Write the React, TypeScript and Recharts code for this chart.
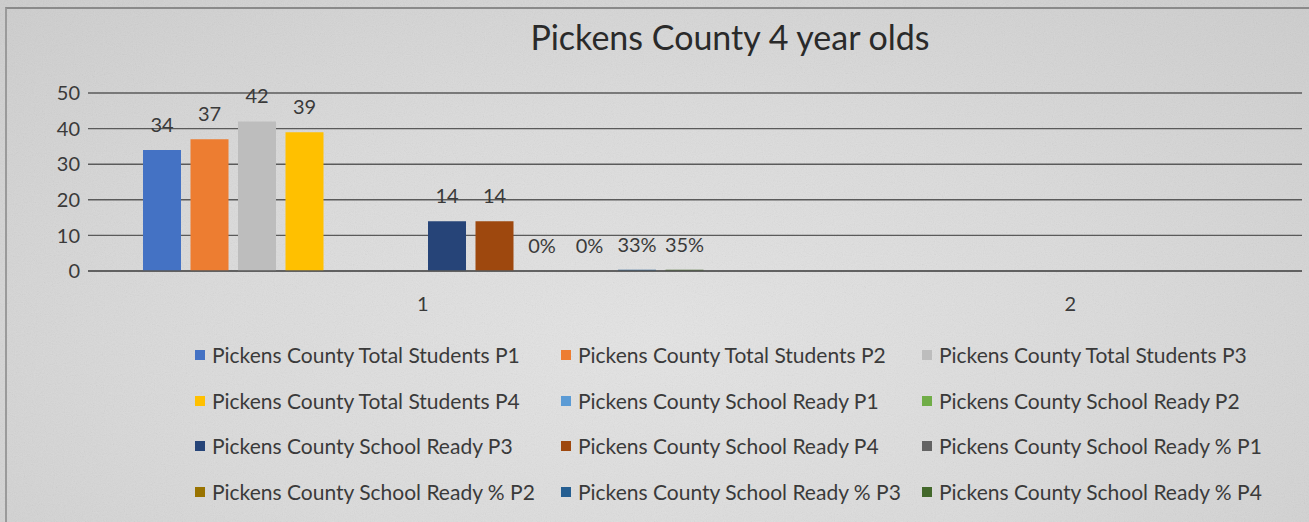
import { BarChart, Bar, XAxis, YAxis, CartesianGrid, LabelList } from "recharts";

const categories = ["1", "2"];
const periods = ["P1", "P2", "P3", "P4"];

// values for category "1"; category "2" has no data
const totalStudents = [34, 37, 42, 39];
const schoolReady = [null, null, 14, 14];
const schoolReadyPct = [0, 0, 0.33, 0.35];

const yTicks = [0, 10, 20, 30, 40, 50];

const totalColors = ["#4472C4", "#ED7D31", "#BDBDBD", "#FFC000"];
const readyColors = ["#5B9BD5", "#70AD47", "#264478", "#9E480E"];
const pctColors = ["#636363", "#997300", "#255E91", "#43682B"];

type Series = { key: string; name: string; color: string; pct: boolean };

const series: Series[] = [
  ...periods.map((p, i) => ({
    key: `total${p}`,
    name: `Pickens County Total Students ${p}`,
    color: totalColors[i],
    pct: false,
  })),
  ...periods.map((p, i) => ({
    key: `ready${p}`,
    name: `Pickens County School Ready ${p}`,
    color: readyColors[i],
    pct: false,
  })),
  ...periods.map((p, i) => ({
    key: `pct${p}`,
    name: `Pickens County School Ready % ${p}`,
    color: pctColors[i],
    pct: true,
  })),
];

const data = categories.map((c, ci) => {
  const row: Record<string, any> = { cat: c };
  periods.forEach((p, i) => {
    row[`total${p}`] = ci === 0 ? totalStudents[i] : null;
    row[`ready${p}`] = ci === 0 ? schoolReady[i] : null;
    row[`pct${p}`] = ci === 0 ? schoolReadyPct[i] : null;
  });
  return row;
});

const FONT = "Lato, 'Open Sans', sans-serif";
const TEXT = "#3a3a3a";

const fmtCount = (v: any) => (v === null || v === undefined ? "" : String(v));
const fmtPct = (v: any) =>
  v === null || v === undefined ? "" : `${Math.round(v * 100)}%`;

export default function App() {
  return (
    <div
      style={{
        position: "absolute",
        left: 0,
        top: 0,
        width: 1309,
        height: 522,
        overflow: "hidden",
        fontFamily: FONT,
        background:
          "radial-gradient(ellipse at 50% 65%, #e4e4e4 0%, #dbdbdb 50%, #cdcdcd 100%)",
      }}
    >
      <svg
        width={1309}
        height={522}
        style={{ position: "absolute", left: 0, top: 0, opacity: 0.15 }}
      >
        <filter id="grain">
          <feTurbulence type="fractalNoise" baseFrequency="0.9" numOctaves="2" seed="3" />
          <feColorMatrix type="saturate" values="0" />
        </filter>
        <rect width="100%" height="100%" filter="url(#grain)" />
      </svg>
      <div
        style={{
          position: "absolute",
          left: 5,
          top: 7,
          width: 1320,
          height: 530,
          borderTop: "2px solid #8a8a8a",
          borderLeft: "2px solid #9a9a9a",
        }}
      />
      <div
        style={{
          position: "absolute",
          top: 15,
          left: 0,
          width: 1460,
          textAlign: "center",
          fontSize: 34,
          lineHeight: "44px",
          color: "#2a2a2a",
        }}
      >
        Pickens County 4 year olds
      </div>
      <div style={{ position: "absolute", left: 0, top: 0 }}>
        <BarChart
          width={1309}
          height={320}
          data={data}
          margin={{ top: 93, right: 7, bottom: 19, left: 8 }}
          barSize={38}
          barGap={9.5}
        >
          <CartesianGrid
            vertical={false}
            stroke="#5a5a5a"
            strokeWidth={1.4}
            horizontalValues={yTicks}
          />
          <XAxis
            dataKey="cat"
            padding={{ left: 11, right: -92 }}
            tickLine={false}
            axisLine={{ stroke: "#5a5a5a", strokeWidth: 1.4 }}
            tickMargin={20}
            tick={{ fill: TEXT, fontSize: 20, fontFamily: FONT }}
            height={30}
          />
          <YAxis
            domain={[0, 50]}
            ticks={yTicks}
            width={80}
            tickLine={false}
            axisLine={false}
            tickMargin={2}
            tick={{ fill: TEXT, fontSize: 20, fontFamily: FONT }}
          />
          {series.map((s) => (
            <Bar
              key={s.key}
              dataKey={s.key}
              name={s.name}
              fill={s.color}
              minPointSize={s.pct ? 0.01 : 0}
              isAnimationActive={false}
            >
              <LabelList
                dataKey={s.key}
                position="top"
                offset={18}
                formatter={s.pct ? fmtPct : fmtCount}
                style={{ fill: TEXT, fontSize: 20, fontFamily: FONT }}
              />
            </Bar>
          ))}
        </BarChart>
      </div>
      <div style={{ position: "absolute", left: 0, top: 333 }}>
        {[0, 1, 2, 3].map((r) => (
          <div key={r} style={{ position: "relative", height: 45.6 }}>
            {series.slice(r * 3, r * 3 + 3).map((s, c) => (
              <div
                key={s.key}
                style={{
                  position: "absolute",
                  left: [195, 561, 922][c],
                  top: 9,
                  display: "flex",
                  alignItems: "center",
                  whiteSpace: "nowrap",
                  fontSize: 21,
                  color: TEXT,
                  lineHeight: "26px",
                }}
              >
                <span
                  style={{
                    display: "inline-block",
                    width: 10,
                    height: 10,
                    background: s.color,
                    marginRight: 7,
                  }}
                />
                {s.name}
              </div>
            ))}
          </div>
        ))}
      </div>
    </div>
  );
}
